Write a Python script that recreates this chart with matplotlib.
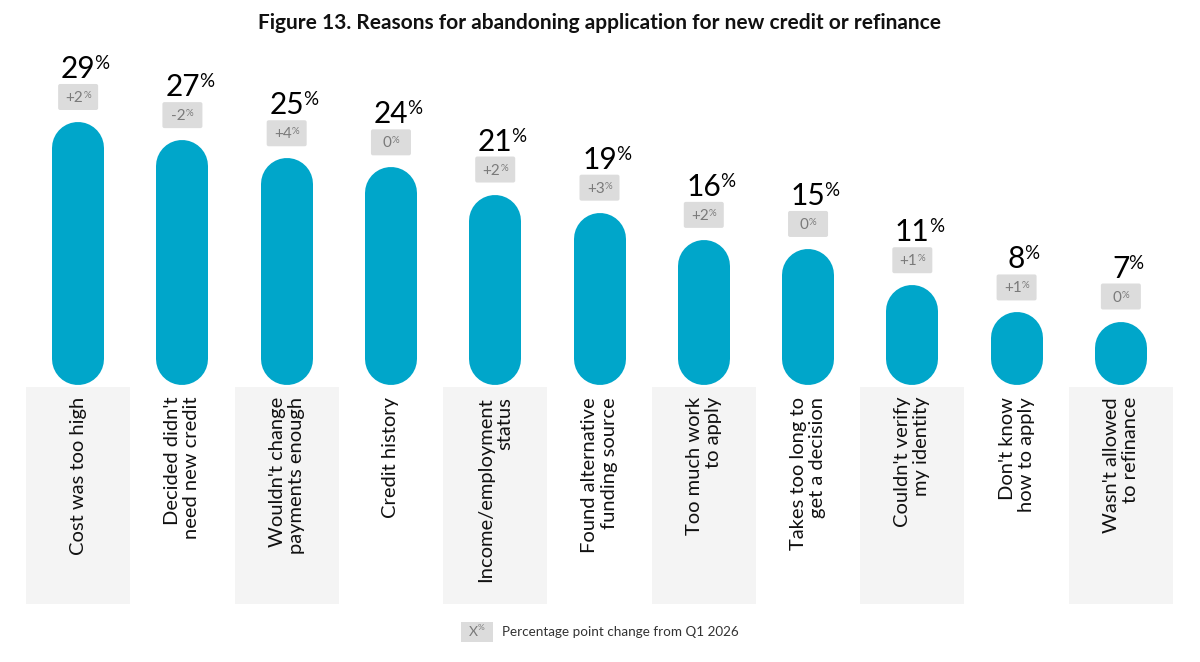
import numpy as np
import matplotlib
matplotlib.use("Agg")
import matplotlib.pyplot as plt
from matplotlib.patches import FancyBboxPatch, Rectangle
from matplotlib.transforms import Affine2D, ScaledTranslation

plt.rcParams['font.family'] = ['Lato', 'DejaVu Sans']

categories = [
    "Cost was too high",
    "Decided didn't\nneed new credit",
    "Wouldn't change\npayments enough",
    "Credit history",
    "Income/employment\nstatus",
    "Found alternative\nfunding source",
    "Too much work\nto apply",
    "Takes too long to\nget a decision",
    "Couldn't verify\nmy identity",
    "Don't know\nhow to apply",
    "Wasn't allowed\nto refinance",
]
values = [29, 27, 25, 24, 21, 19, 16, 15, 11, 8, 7]
changes = ["+2", "-2", "+4", "0", "+2", "+3", "+2", "0", "+1", "+1", "0"]

TITLE = "Figure 13. Reasons for abandoning application for new credit or refinance"
LEGEND_TEXT = "Percentage point change from Q1 2026"

BAR = '#00A6CA'
BG = '#F4F4F4'
BOX = '#DCDCDC'
BOXTXT = '#7A7A7A'

W, H, DPI = 1200, 662, 100
fig = plt.figure(figsize=(W / DPI, H / DPI), dpi=DPI)
fig.patch.set_facecolor('white')

YMIN, YMAX = -24.15, 38.04
ax = fig.add_axes([26 / W, (H - 604) / H, 1147 / W, (604 - 40) / H])
ax.set_xlim(-0.5, len(categories) - 0.5)
ax.set_ylim(YMIN, YMAX)
ax.axis('off')

px_per_unit = (604 - 40) / (YMAX - YMIN)
bar_w_px = 52
r = (bar_w_px / 2) / px_per_unit

# alternating grey category backgrounds
for i in range(0, len(categories), 2):
    ax.add_patch(Rectangle((i - 0.5, YMIN), 1, -YMIN - 2 / px_per_unit,
                           facecolor=BG, edgecolor='none', zorder=0))

# pill bars
for i, v in enumerate(values):
    ax.plot([i, i], [r, v - r], color=BAR, lw=bar_w_px * 72 / DPI,
            solid_capstyle='round', zorder=2)

# category labels
for i, lab in enumerate(categories):
    ax.text(i, -12 / px_per_unit, lab, rotation=90, ha='center', va='top',
            multialignment='right', fontsize=14.5, color='#111111', zorder=3,
            linespacing=1.15)

fig.canvas.draw()
renderer = fig.canvas.get_renderer()

for i, (v, c) in enumerate(zip(values, changes)):
    # value label
    t = ax.annotate(str(v), xy=(i, v), xytext=(0, 44), textcoords='offset pixels',
                    ha='center', va='baseline', fontsize=21.5, color='#000000', zorder=4)
    wn = t.get_window_extent(renderer).width
    ax.annotate('%', xy=(i, v), xytext=(wn / 2 - 1, 53), textcoords='offset pixels',
                ha='left', va='baseline', fontsize=13.5, color='#000000', zorder=4)

    # change box
    tr = Affine2D() + ScaledTranslation(i, v, ax.transData)
    ax.add_patch(FancyBboxPatch((-20, 12), 40, 26,
                                boxstyle='round,pad=0,rounding_size=2',
                                facecolor=BOX, edgecolor='none', transform=tr, zorder=3))
    tn = ax.annotate(c, xy=(i, v), xytext=(0, 20), textcoords='offset pixels',
                     ha='left', va='baseline', fontsize=11, color=BOXTXT, zorder=4)
    tp = ax.annotate('%', xy=(i, v), xytext=(0, 24), textcoords='offset pixels',
                     ha='left', va='baseline', fontsize=7, color=BOXTXT, zorder=4)
    wn2 = tn.get_window_extent(renderer).width
    wp2 = tp.get_window_extent(renderer).width
    total = wn2 + wp2
    tn.set_position((-total / 2, 20))
    tp.set_position((-total / 2 + wn2, 24))

# title
fig.text(0.5, 1 - 23 / H, TITLE, ha='center', va='center', fontsize=15,
         fontweight='bold', color='#111111')

# legend
fig.patches.append(FancyBboxPatch((461 / W, (H - 642) / H), 32 / W, 20 / H,
                                  boxstyle='square,pad=0', facecolor=BOX,
                                  edgecolor='none', transform=fig.transFigure,
                                  figure=fig))
fig.text(473 / W, 1 - 636 / H, 'X', ha='center', va='baseline', fontsize=10,
         color=BOXTXT)
fig.text(478 / W, 1 - 630 / H, '%', ha='left', va='baseline', fontsize=6,
         color=BOXTXT)
fig.text(502 / W, 1 - 632 / H, LEGEND_TEXT, ha='left', va='center', fontsize=9.7,
         color='#333333')

fig.savefig('out.png', dpi=DPI, facecolor='white')
